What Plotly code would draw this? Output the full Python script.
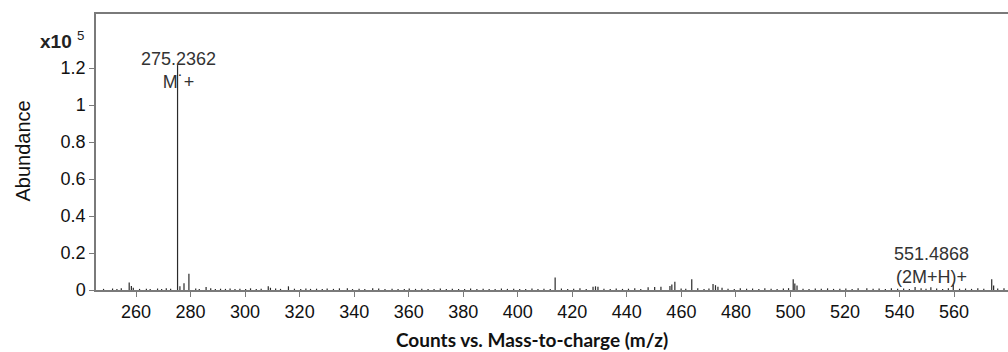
import plotly.graph_objects as go

# ---- data (abundance in units of 1e5 counts) ----
major_mz = [257.5, 258.3, 259.0, 275.2362, 276.1, 277.6, 279.4, 285.7, 308.5, 309.3,
            315.9, 337.5, 346.8, 413.7, 427.6, 428.5, 429.4, 447.8, 450.2, 452.5,
            455.8, 456.5, 457.6, 463.8, 471.6, 472.5, 473.4, 474.9, 501.0, 501.6,
            502.4, 528.0, 545.7, 551.4868, 559.7, 573.8, 574.5]
major_ab = [0.040, 0.022, 0.012, 1.216, 0.020, 0.036, 0.088, 0.016, 0.020, 0.012,
            0.020, 0.010, 0.010, 0.068, 0.018, 0.020, 0.018, 0.015, 0.016, 0.018,
            0.022, 0.030, 0.045, 0.058, 0.032, 0.026, 0.018, 0.012, 0.058, 0.035,
            0.025, 0.010, 0.016, 0.015, 0.030, 0.058, 0.025]

noise_mz = [
    248.1, 251.4, 253.0, 254.6, 261.3, 263.8, 265.2, 267.9, 269.4, 271.1,
    272.7, 281.9, 283.2, 287.4, 289.1, 291.0, 292.8, 294.5, 296.3, 298.1,
    300.2, 302.0, 304.1, 305.9, 311.2, 313.0, 318.1, 320.4, 322.3, 324.0,
    326.2, 328.3, 330.1, 332.4, 334.6, 339.4, 341.8, 343.9, 349.0, 351.3,
    353.9, 356.1, 358.4, 360.2, 362.5, 364.8, 367.1, 369.3, 371.6, 373.8,
    376.0, 378.3, 380.5, 382.7, 385.0, 387.3, 389.5, 391.7, 394.0, 396.2,
    398.5, 400.7, 402.9, 405.2, 407.4, 409.6, 411.9, 416.0, 418.3, 420.5,
    422.8, 425.1, 431.6, 433.9, 436.1, 438.4, 440.6, 442.9, 445.1, 459.9,
    461.6, 466.0, 468.3, 470.1, 477.1, 479.4, 481.6, 483.9, 486.1, 488.4,
    490.6, 492.9, 495.1, 497.4, 499.3, 504.6, 506.8, 509.1, 511.3, 513.6,
    515.8, 518.1, 520.3, 522.6, 524.8, 530.3, 532.5, 534.8, 537.0, 539.3,
    541.5, 543.6, 547.9, 549.7, 553.6, 555.8, 557.9, 562.0, 564.2, 566.4,
    568.7, 570.9, 576.0, 578.3]
noise_ab = [
    0.006, 0.008, 0.005, 0.009, 0.006, 0.007, 0.005, 0.008, 0.006, 0.009,
    0.007, 0.008, 0.006, 0.009, 0.005, 0.007, 0.006, 0.008, 0.005, 0.007,
    0.006, 0.009, 0.005, 0.007, 0.008, 0.006, 0.007, 0.005, 0.008, 0.006,
    0.007, 0.005, 0.008, 0.006, 0.009, 0.005, 0.007, 0.006, 0.008, 0.005,
    0.007, 0.006, 0.005, 0.008, 0.006, 0.007, 0.005, 0.006, 0.008, 0.005,
    0.007, 0.006, 0.005, 0.008, 0.006, 0.007, 0.005, 0.006, 0.008, 0.006,
    0.007, 0.005, 0.006, 0.008, 0.005, 0.007, 0.006, 0.008, 0.006, 0.007,
    0.009, 0.006, 0.007, 0.005, 0.008, 0.006, 0.007, 0.009, 0.006, 0.008,
    0.007, 0.009, 0.006, 0.008, 0.007, 0.006, 0.009, 0.007, 0.008, 0.006,
    0.009, 0.007, 0.006, 0.008, 0.010, 0.007, 0.006, 0.008, 0.007, 0.009,
    0.006, 0.007, 0.008, 0.006, 0.009, 0.007, 0.008, 0.006, 0.009, 0.007,
    0.008, 0.006, 0.009, 0.007, 0.008, 0.006, 0.010, 0.007, 0.008, 0.006,
    0.009, 0.007, 0.008, 0.010]

x_ticks = [260, 280, 300, 320, 340, 360, 380, 400, 420, 440, 460, 480, 500, 520, 540, 560]
y_ticks = [0, 0.2, 0.4, 0.6, 0.8, 1.0, 1.2]
y_tick_labels = ["0", "0.2", "0.4", "0.6", "0.8", "1", "1.2"]

peak_labels = [
    (275.2362, 1.184, "275.2362<br>M˙+"),
    (551.4868, 0.130, "551.4868<br>(2M+H)+"),
]

# ---- build stick spectrum ----
all_mz = major_mz + noise_mz
all_ab = major_ab + noise_ab
xs, ys = [], []
for m, a in zip(all_mz, all_ab):
    xs += [m, m, None]
    ys += [0, a, None]

fig = go.Figure()
fig.add_trace(go.Scatter(x=xs, y=ys, mode="lines",
                         line=dict(color="#2a2a2a", width=1.2),
                         hoverinfo="skip", showlegend=False))

for mz, y, txt in peak_labels:
    fig.add_annotation(x=mz + 0.3, y=y, text=txt, showarrow=False,
                       font=dict(family="Liberation Sans", size=18, color="#333333"),
                       xanchor="center", yanchor="middle")

fig.add_annotation(xref="paper", yref="paper", x=-0.064, y=0.906,
                   text="<b>x10</b> <sup>5</sup>", showarrow=False,
                   font=dict(family="Liberation Sans", size=19, color="#222222"),
                   xanchor="left", yanchor="middle")
fig.add_annotation(xref="paper", yref="paper", x=-0.080, y=0.502,
                   text="Abundance", textangle=-90, showarrow=False,
                   font=dict(family="Liberation Sans", size=20, color="#111111"),
                   xanchor="center", yanchor="middle")
fig.add_annotation(xref="paper", yref="paper", x=0.4786, y=-0.181,
                   text="<b>Counts vs. Mass-to-charge (m/z)</b>", showarrow=False,
                   font=dict(family="Lato", size=19, color="#111111"),
                   xanchor="center", yanchor="middle")

fig.update_layout(
    width=1008, height=352,
    margin=dict(l=96, r=0, t=14, b=62),
    paper_bgcolor="white", plot_bgcolor="white",
    showlegend=False,
    font=dict(family="Liberation Sans", size=18, color="#111111"),
)
fig.update_xaxes(range=[245.33, 579.77], tickvals=x_ticks,
                 showgrid=False, zeroline=False,
                 showline=True, linecolor="#7a7a7a", linewidth=1.5, mirror=True,
                 ticks="outside", ticklen=5, tickcolor="#7a7a7a", tickwidth=1,
                 tickfont=dict(size=18))
fig.update_yaxes(range=[0, 1.492], tickvals=y_ticks, ticktext=y_tick_labels,
                 showgrid=False, zeroline=False,
                 showline=True, linecolor="#7a7a7a", linewidth=1.5, mirror=False,
                 ticks="outside", ticklen=5, tickcolor="#7a7a7a", tickwidth=1,
                 tickfont=dict(size=18))

fig.write_html("out.html")
